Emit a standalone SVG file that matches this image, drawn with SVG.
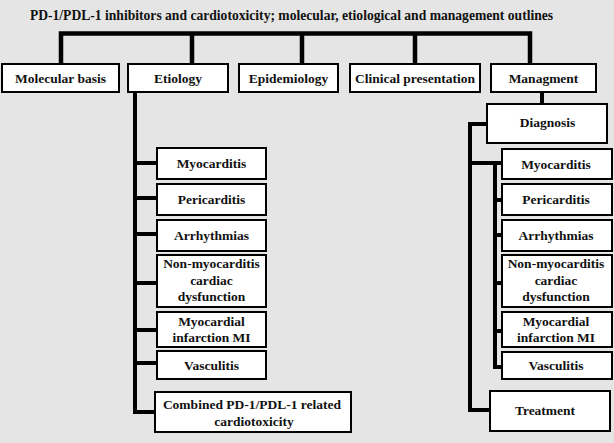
<svg xmlns="http://www.w3.org/2000/svg" width="614" height="443" viewBox="0 0 614 443">
<style>
.bx{fill:#fff;stroke:#000;stroke-width:2}
.t{font-family:'Liberation Serif','Times New Roman',Tinos,'DejaVu Serif',serif;font-weight:700;font-size:13.5px;fill:#111;text-anchor:middle}
.c{fill:none;stroke:#000;stroke-width:4.5;stroke-linejoin:miter;stroke-linecap:butt}
.s{fill:none;stroke:#000;stroke-width:4}
</style>
<rect x="0" y="0" width="614" height="443" fill="#e5e5e5"/>
<text class="t" x="291.5" y="20" style="font-size:13.6px">PD-1/PDL-1 inhibitors and cardiotoxicity; molecular, etiological and management outlines</text>
<g id="connectors">
<path class="c" d="M61,64 V33.5 H530 V64 M192,33.5 V64 M302,33.5 V64 M415,33.5 V64"/>
<path class="s" d="M135,92 V412 H156 M135,163 H158 M135,198 H158 M135,234 H158 M135,283 H158 M135,330 H158 M135,363 H158"/>
<path class="s" d="M542,92 V105"/>
<path class="s" d="M487,124 H470 V410 H491 M470,163 H503"/>
<path class="s" d="M495,163 V367 H503 M495,200 H503 M495,235 H503 M495,283 H503 M495,331 H503"/>
</g>
<g id="molecular"><rect class="bx" x="2" y="64" width="117" height="28"/><text class="t" x="60.5" y="82.5">Molecular basis</text></g>
<g id="etiology"><rect class="bx" x="128" y="64" width="100" height="28"/><text class="t" x="178" y="82.5">Etiology</text></g>
<g id="epidemiology"><rect class="bx" x="239" y="64" width="99" height="28"/><text class="t" x="288.5" y="82.5">Epidemiology</text></g>
<g id="clinical"><rect class="bx" x="350" y="64" width="130" height="28"/><text class="t" x="415" y="82.5">Clinical presentation</text></g>
<g id="management"><rect class="bx" x="491" y="64" width="105" height="28"/><text class="t" x="543.5" y="82.5">Managment</text></g>

<g id="e-myocarditis"><rect class="bx" x="157" y="148" width="109" height="31"/><text class="t" x="211.5" y="168">Myocarditis</text></g>
<g id="e-pericarditis"><rect class="bx" x="157" y="184" width="109" height="31"/><text class="t" x="211.5" y="204">Pericarditis</text></g>
<g id="e-arrhythmias"><rect class="bx" x="157" y="220" width="109" height="31"/><text class="t" x="211.5" y="240">Arrhythmias</text></g>
<g id="e-nonmyo"><rect class="bx" x="157" y="255" width="109" height="52"/><text class="t" x="211.5" y="268">Non-myocarditis</text><text class="t" x="211.5" y="284.5">cardiac</text><text class="t" x="211.5" y="301">dysfunction</text></g>
<g id="e-mi"><rect class="bx" x="157" y="312" width="109" height="35"/><text class="t" x="211.5" y="325.5">Myocardial</text><text class="t" x="211.5" y="342">infarction MI</text></g>
<g id="e-vasculitis"><rect class="bx" x="157" y="351" width="109" height="28"/><text class="t" x="211.5" y="369.5">Vasculitis</text></g>
<g id="e-combined"><rect class="bx" x="155" y="392" width="196" height="40"/><text class="t" x="252" y="409">Combined PD-1/PDL-1 related</text><text class="t" x="254" y="425.5">cardiotoxicity</text></g>

<g id="diagnosis"><rect class="bx" x="487" y="104" width="120" height="39"/><text class="t" x="547.5" y="127">Diagnosis</text></g>
<g id="d-myocarditis"><rect class="bx" x="502" y="149" width="110" height="30"/><text class="t" x="556" y="168.5">Myocarditis</text></g>
<g id="d-pericarditis"><rect class="bx" x="502" y="184" width="110" height="31"/><text class="t" x="556" y="204">Pericarditis</text></g>
<g id="d-arrhythmias"><rect class="bx" x="502" y="220" width="110" height="31"/><text class="t" x="556" y="240">Arrhythmias</text></g>
<g id="d-nonmyo"><rect class="bx" x="502" y="255" width="110" height="52"/><text class="t" x="556" y="268">Non-myocarditis</text><text class="t" x="556" y="284.5">cardiac</text><text class="t" x="556" y="301">dysfunction</text></g>
<g id="d-mi"><rect class="bx" x="502" y="312" width="110" height="35"/><text class="t" x="556" y="325.5">Myocardial</text><text class="t" x="556" y="342">infarction MI</text></g>
<g id="d-vasculitis"><rect class="bx" x="502" y="352" width="110" height="27"/><text class="t" x="556" y="369.5">Vasculitis</text></g>
<g id="treatment"><rect class="bx" x="490" y="391" width="120" height="40"/><text class="t" x="545" y="415">Treatment</text></g>
</svg>
